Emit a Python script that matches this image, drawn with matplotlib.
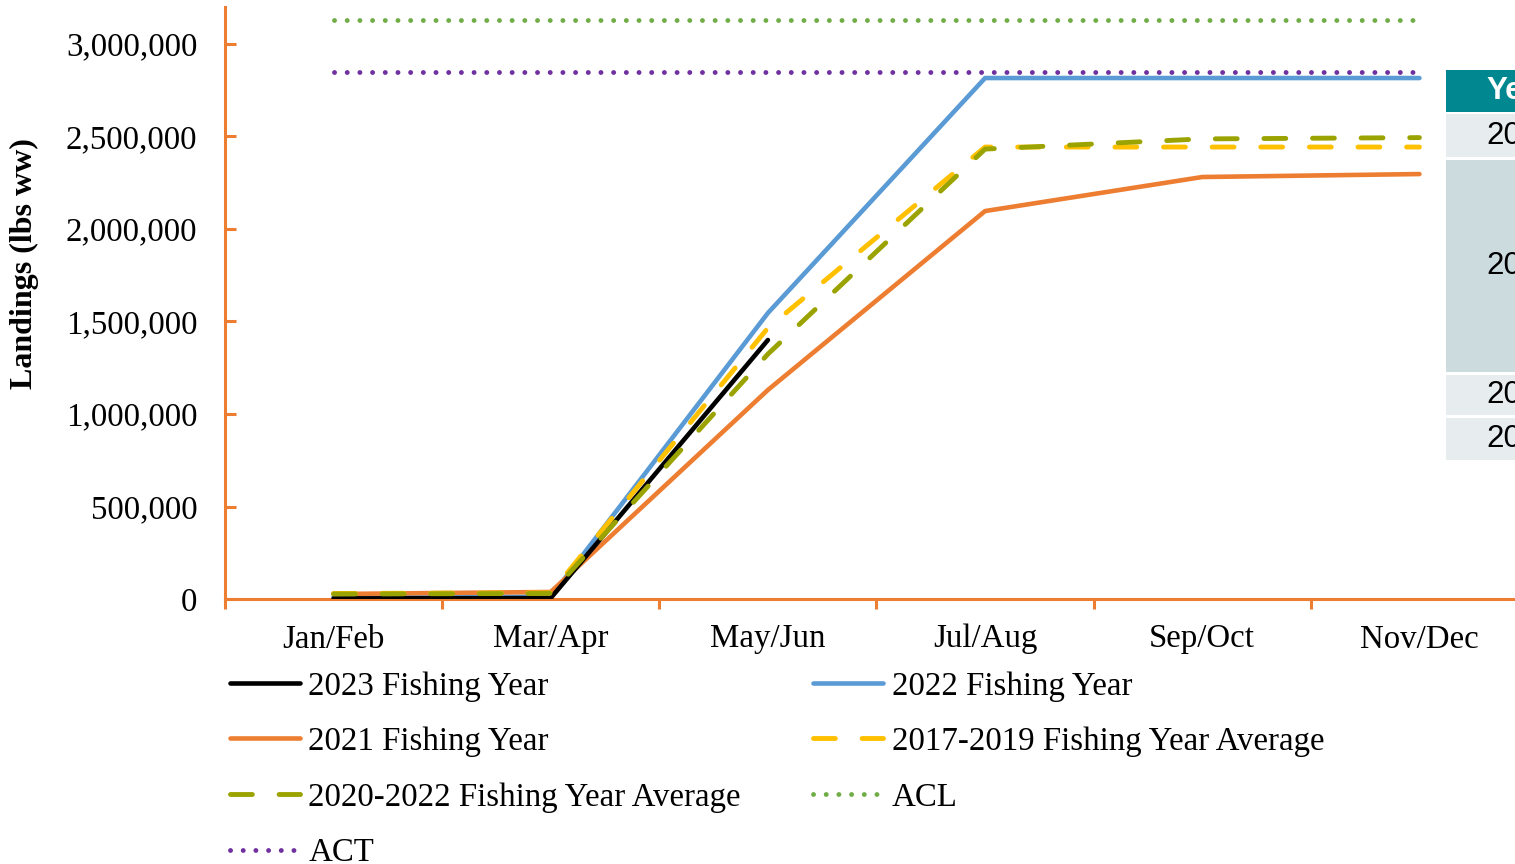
import matplotlib
matplotlib.use("Agg")
import matplotlib.pyplot as plt
from matplotlib.patches import Rectangle
from matplotlib.ticker import FuncFormatter

# data (lbs ww, cumulative)
periods = ["Jan/Feb", "Mar/Apr", "May/Jun", "Jul/Aug", "Sep/Oct", "Nov/Dec"]
fy2023 = [3000, 5000, 1400000]
fy2022 = [10000, 12000, 1546000, 2816000, 2816000, 2816000]
fy2021 = [27000, 38000, 1130000, 2097000, 2281000, 2297000]
avg_2017_2019 = [30000, 33000, 1465000, 2443000, 2443000, 2443000]
avg_2020_2022 = [27000, 30000, 1324000, 2432000, 2487000, 2494000]
acl = 3130000
act = 2849000

# only the left edge of this table is visible in the reference
table_rows = ["Ye", "20", "20", "20", "20"]

plt.rcParams["font.family"] = ["Liberation Serif", "DejaVu Serif"]
orange = "#ED7D31"

fig = plt.figure(figsize=(15.15, 8.64), dpi=100)
W, H = 1515.0, 864.0
ax = fig.add_axes([225 / W, (H - 599) / H, (1528 - 225) / W, 592 / H])

x = list(range(len(periods)))
lw = 3.3
dash = (0, (4.5, 5.5))
dots = (0, (0.01, 2.6))

l23, = ax.plot(x[:len(fy2023)], fy2023, color="black", lw=lw, solid_capstyle="round",
               label="2023 Fishing Year", zorder=3)
l22, = ax.plot(x, fy2022, color="#5B9BD5", lw=lw, solid_capstyle="round",
               label="2022 Fishing Year", zorder=2)
l21, = ax.plot(x, fy2021, color=orange, lw=lw, solid_capstyle="round",
               label="2021 Fishing Year", zorder=2.5)
l1719, = ax.plot(x, avg_2017_2019, color="#FFC000", lw=3.5, ls=dash, dash_capstyle="round",
                 label="2017-2019 Fishing Year Average", zorder=4)
l2022, = ax.plot(x, avg_2020_2022, color="#9BA300", lw=3.5, ls=dash, dash_capstyle="round",
                 label="2020-2022 Fishing Year Average", zorder=5)
lacl, = ax.plot(x, [acl] * len(x), color="#70AD47", lw=3.5, ls=dots, dash_capstyle="round",
                label="ACL", zorder=6)
lact, = ax.plot(x, [act] * len(x), color="#7030A0", lw=3.5, ls=dots, dash_capstyle="round",
                label="ACT", zorder=6)

ax.set_xlim(-0.5, 5.5)
ax.set_ylim(0, 3200000)
ax.set_xticks([i - 0.5 for i in range(7)])
ax.set_xticks(x, minor=True)
ax.set_xticklabels([])
ax.set_xticklabels(periods, minor=True, fontsize=23.7)
ax.tick_params(axis="x", which="major", direction="out", length=7, width=2.2, color=orange)
ax.tick_params(axis="x", which="minor", length=0, pad=18)
ax.set_yticks(range(0, 3000001, 500000))
ax.yaxis.set_major_formatter(FuncFormatter(lambda v, p: f"{int(v):,}"))
ax.tick_params(axis="y", direction="in", length=8, width=2.2, color=orange, labelsize=23.7, pad=20)

for s in ["top", "right"]:
    ax.spines[s].set_visible(False)
for s in ["left", "bottom"]:
    ax.spines[s].set_color(orange)
    ax.spines[s].set_linewidth(2.2)

ax.set_ylabel("Landings (lbs ww)", fontsize=23, fontweight="bold")
ax.yaxis.set_label_coords(-186 / 1303, 0.567)

handles = [l23, l21, l2022, lact, l22, l1719, lacl]
fig.legend(handles=handles, labels=[h.get_label() for h in handles], ncol=2,
           loc="upper left", bbox_to_anchor=(230 / W, 1 - 671 / H), frameon=False,
           fontsize=23.7, handlelength=2.13, handletextpad=0.25, columnspacing=2.2,
           labelspacing=0.76, borderpad=0, borderaxespad=0)

# partly visible table on the right edge
cells = [(70, 112, "#00878F"), (114, 157, "#E7ECEE"), (160, 372, "#CCDBDE"),
         (375, 415, "#E7ECEE"), (418, 460, "#E7ECEE")]
for (top, bot, col), txt in zip(cells, table_rows):
    fig.add_artist(Rectangle((1446 / W, 1 - bot / H), 200 / W, (bot - top) / H,
                             transform=fig.transFigure, facecolor=col, edgecolor="none", zorder=10))
    hdr = top == 70
    fig.text(1486 / W, 1 - (top + bot) / 2 / H, txt, ha="left", va="center",
             fontsize=22.5, family="Liberation Sans",
             color="white" if hdr else "black",
             fontweight="bold" if hdr else "normal", zorder=11)

fig.savefig("out.png", dpi=100)
